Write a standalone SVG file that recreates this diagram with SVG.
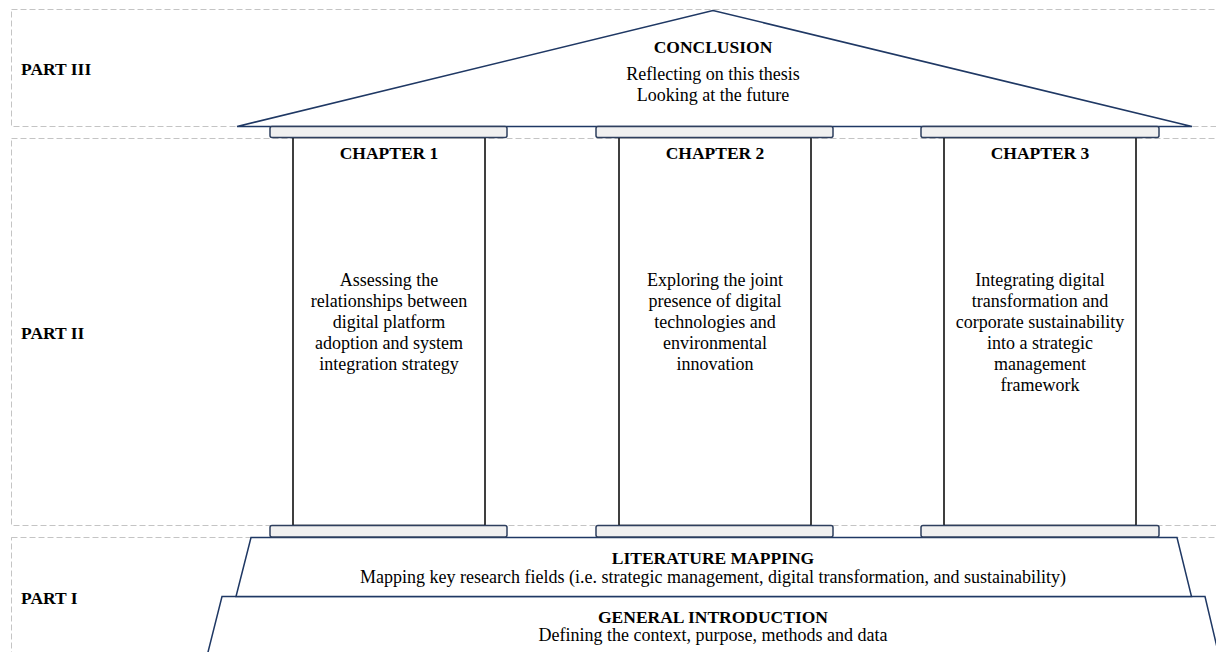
<svg xmlns="http://www.w3.org/2000/svg" width="1216" height="652" viewBox="0 0 1216 652">
  <style>
    .band { fill: none; stroke: #c4c4c4; stroke-width: 1; stroke-dasharray: 6 3; }
    .part { font-family: "Liberation Serif", "Times New Roman", serif; font-size: 17.5px; font-weight: bold; fill: #000; }
    .title { font-family: "Liberation Serif", "Times New Roman", serif; font-size: 17.5px; font-weight: bold; fill: #000; text-anchor: middle; }
    .body { font-family: "Liberation Serif", "Times New Roman", serif; font-size: 18px; fill: #000; text-anchor: middle; }
    .roof, .step { fill: #fff; stroke: #1f3864; stroke-width: 1.5; stroke-linejoin: miter; }
    .slab { fill: #f0f0f0; stroke: #2e3f5e; stroke-width: 1.5; }
    .shaft { fill: #fff; stroke: #000; stroke-width: 1.5; }
  </style>
  <rect width="1216" height="652" fill="#fff"/>

  <!-- part bands -->
  <g id="bands">
    <rect class="band" x="11.5" y="9.5" width="1300" height="117"/>
    <rect class="band" x="11.5" y="138.5" width="1300" height="387"/>
    <rect class="band" x="11.5" y="537.5" width="1300" height="200"/>
    <text class="part" x="21" y="75">PART III</text>
    <text class="part" x="21" y="339">PART II</text>
    <text class="part" x="21" y="604">PART I</text>
  </g>

  <!-- foundation steps -->
  <g id="general-introduction">
    <polygon class="step" points="222,596.5 1205,596.5 1220,660 206,660"/>
    <text class="title" x="713" y="623">GENERAL INTRODUCTION</text>
    <text class="body" x="713" y="641">Defining the context, purpose, methods and data</text>
  </g>
  <g id="literature-mapping">
    <polygon class="step" points="251,537.5 1177,537.5 1191.5,596.5 236,596.5"/>
    <text class="title" x="713" y="564">LITERATURE MAPPING</text>
    <text class="body" x="713" y="583">Mapping key research fields (i.e. strategic management, digital transformation, and sustainability)</text>
  </g>

  <!-- roof -->
  <g id="conclusion">
    <polygon class="roof" points="237,126.5 713,10.5 1192,126.5"/>
    <text class="title" x="713" y="53">CONCLUSION</text>
    <text class="body" x="713" y="80">Reflecting on this thesis</text>
    <text class="body" x="713" y="101">Looking at the future</text>
  </g>

  <!-- columns -->
  <g id="chapter-1">
    <rect class="shaft" x="293" y="137.5" width="192" height="388"/>
    <rect class="slab" x="270" y="126.5" width="237" height="11" rx="2"/>
    <rect class="slab" x="270" y="525.5" width="237" height="11.5" rx="2"/>
    <text class="title" x="389" y="159">CHAPTER 1</text>
    <text class="body" x="389" y="286">Assessing the</text>
    <text class="body" x="389" y="307">relationships between</text>
    <text class="body" x="389" y="328">digital platform</text>
    <text class="body" x="389" y="349">adoption and system</text>
    <text class="body" x="389" y="370">integration strategy</text>
  </g>
  <g id="chapter-2">
    <rect class="shaft" x="619" y="137.5" width="192" height="388"/>
    <rect class="slab" x="596" y="126.5" width="237" height="11" rx="2"/>
    <rect class="slab" x="596" y="525.5" width="237" height="11.5" rx="2"/>
    <text class="title" x="715" y="159">CHAPTER 2</text>
    <text class="body" x="715" y="286">Exploring the joint</text>
    <text class="body" x="715" y="307">presence of digital</text>
    <text class="body" x="715" y="328">technologies and</text>
    <text class="body" x="715" y="349">environmental</text>
    <text class="body" x="715" y="370">innovation</text>
  </g>
  <g id="chapter-3">
    <rect class="shaft" x="944" y="137.5" width="192" height="388"/>
    <rect class="slab" x="921" y="126.5" width="238" height="11" rx="2"/>
    <rect class="slab" x="921" y="525.5" width="238" height="11.5" rx="2"/>
    <text class="title" x="1040" y="159">CHAPTER 3</text>
    <text class="body" x="1040" y="286">Integrating digital</text>
    <text class="body" x="1040" y="307">transformation and</text>
    <text class="body" x="1040" y="328">corporate sustainability</text>
    <text class="body" x="1040" y="349">into a strategic</text>
    <text class="body" x="1040" y="370">management</text>
    <text class="body" x="1040" y="391">framework</text>
  </g>
</svg>
